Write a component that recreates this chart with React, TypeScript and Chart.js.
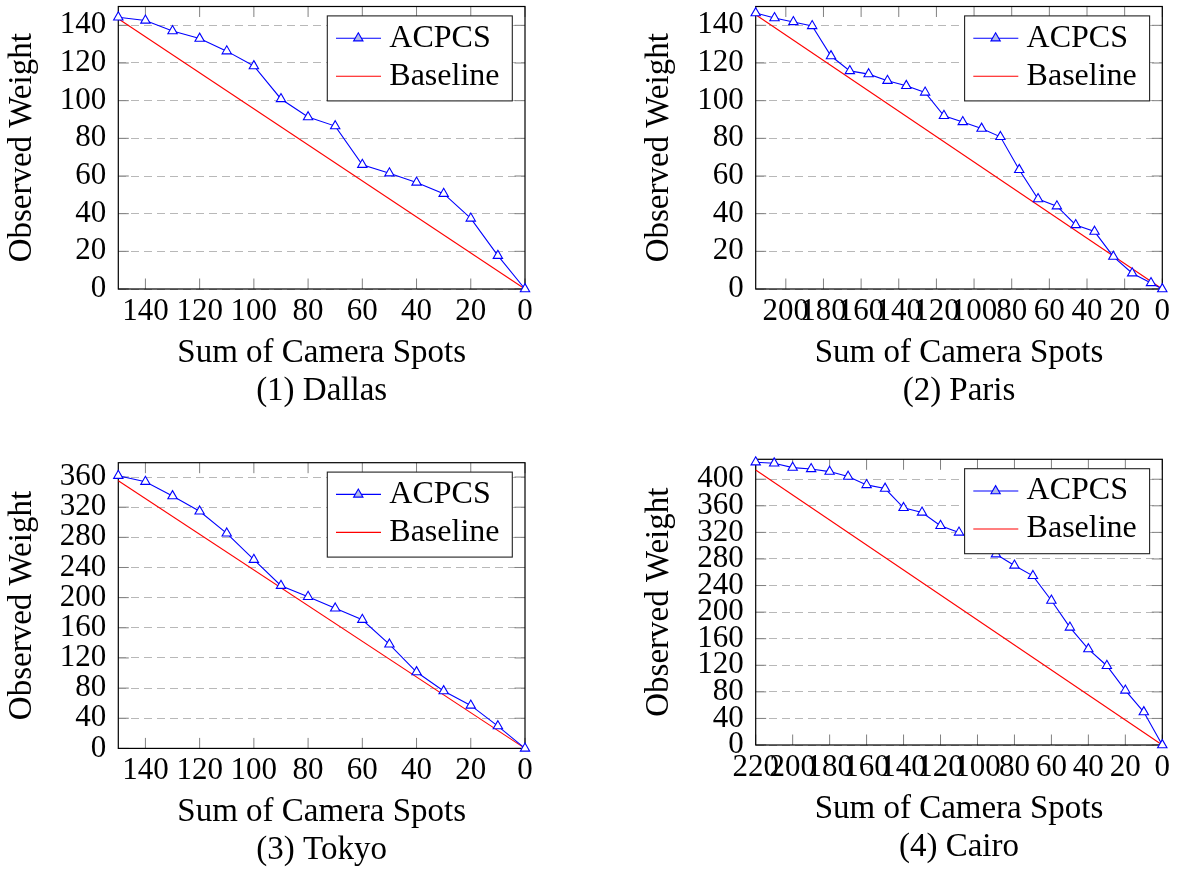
import React, { useEffect, useRef } from 'react';
import { Chart, registerables } from 'chart.js';

Chart.register(...registerables);

// ---------- data ----------
const seriesNames = ['ACPCS', 'Baseline'];
const xAxisTitle = 'Sum of Camera Spots';
const yAxisTitle = 'Observed Weight';

// (1) Dallas
const dallasCaption = '(1) Dallas';
const dallasX = [150, 140, 130, 120, 110, 100, 90, 80, 70, 60, 50, 40, 30, 20, 10, 0];
const dallasACPCS = [144.3, 142.6, 137, 133, 126.3, 118.4, 100.9, 91.3, 86.5, 66, 61.5, 56.6, 50.6, 37.5, 17.7, 0];
const dallasBaseX = [150, 0];
const dallasBaseY = [143.5, 0];

// (2) Paris
const parisCaption = '(2) Paris';
const parisX = [216, 206, 196, 186, 176, 166, 156, 146, 136, 126, 116, 106, 96, 86, 76, 66, 56, 46, 36, 26, 16, 6, 0];
const parisACPCS = [146.5, 143.9, 141.8, 139.7, 123.7, 115.8, 114.1, 110.6, 107.9, 104.4, 92, 88.7, 85.2, 80.8, 63.3, 47.8, 44, 34, 30.5, 17.2, 8.4, 3.2, 0];
const parisBaseX = [216, 0];
const parisBaseY = [145.6, 0];

// (3) Tokyo
const tokyoCaption = '(3) Tokyo';
const tokyoX = [150, 140, 130, 120, 110, 100, 90, 80, 70, 60, 50, 40, 30, 20, 10, 0];
const tokyoACPCS = [361.8, 353.8, 334.8, 314.5, 285.3, 250.3, 215.8, 201.2, 185.8, 170.7, 138, 101.3, 76.1, 57, 29.6, 0];
const tokyoBaseX = [150, 0];
const tokyoBaseY = [355, 0];

// (4) Cairo
const cairoCaption = '(4) Cairo';
const cairoX = [220, 210, 200, 190, 180, 170, 160, 150, 140, 130, 120, 110, 100, 90, 80, 70, 60, 50, 40, 30, 20, 10, 0];
const cairoACPCS = [425.6, 424, 417.5, 415.5, 411.5, 404, 391.5, 386, 357, 350, 330, 320, 304, 287.2, 270.2, 254.6, 217.5, 177, 144.4, 119.3, 82.2, 49.6, 0];
const cairoBaseX = [220, 0];
const cairoBaseY = [414, 0];

// axis ranges / tick steps
const xMaxes = [150, 216, 150, 220];
const yMaxes = [150, 150, 379, 430];
const xSteps = [20, 20, 20, 20];
const ySteps = [20, 20, 40, 40];

// ---------- styling / layout ----------
const FONT = "'Liberation Serif', 'Times New Roman', serif";
const FS_TICK = 31;
const FS_TITLE = 33;
const FS_LEGEND = 32;
const Y_AXIS_W = 118.3;

Chart.defaults.font.family = FONT;
Chart.defaults.color = '#000';

const framePlugin = {
  id: 'pgfFrame',
  beforeDatasetsDraw(chart: any) {
    const { ctx, chartArea: a, scales } = chart;
    ctx.save();
    ctx.strokeStyle = '#808080';
    ctx.lineWidth = 1;
    ctx.beginPath();
    for (const t of scales.x.ticks) {
      const px = scales.x.getPixelForValue(t.value);
      ctx.moveTo(px, a.bottom);
      ctx.lineTo(px, a.bottom - 10.5);
      ctx.moveTo(px, a.top);
      ctx.lineTo(px, a.top + 10.5);
    }
    for (const t of scales.y.ticks) {
      const py = scales.y.getPixelForValue(t.value);
      ctx.moveTo(a.left, py);
      ctx.lineTo(a.left + 10.5, py);
      ctx.moveTo(a.right, py);
      ctx.lineTo(a.right - 10.5, py);
    }
    ctx.stroke();
    ctx.strokeStyle = '#000';
    ctx.lineWidth = 1.2;
    ctx.strokeRect(a.left, a.top, a.right - a.left, a.bottom - a.top);
    ctx.restore();
  },
};

function drawTriangle(ctx: CanvasRenderingContext2D, x: number, y: number, r: number) {
  ctx.beginPath();
  for (let k = 0; k < 3; k++) {
    const ang = (k * 2 * Math.PI) / 3;
    const px = x + Math.sin(ang) * r;
    const py = y - Math.cos(ang) * r;
    if (k === 0) ctx.moveTo(px, py);
    else ctx.lineTo(px, py);
  }
  ctx.closePath();
}

const legendPlugin = {
  id: 'pgfLegend',
  afterDatasetsDraw(chart: any) {
    const { ctx, chartArea: a } = chart;
    const bw = 185;
    const bh = 85;
    const bx = a.right - 12.7 - bw;
    const by = a.top + 9.4;
    ctx.save();
    ctx.fillStyle = '#fff';
    ctx.fillRect(bx, by, bw, bh);
    ctx.strokeStyle = '#222';
    ctx.lineWidth = 1.1;
    ctx.strokeRect(bx, by, bw, bh);
    chart.data.datasets.forEach((ds: any, i: number) => {
      const cy = by + 22.3 + i * 38;
      ctx.strokeStyle = ds.borderColor;
      ctx.lineWidth = ds.borderWidth;
      ctx.beginPath();
      ctx.moveTo(bx + 8.7, cy);
      ctx.lineTo(bx + 53.7, cy);
      ctx.stroke();
      if (ds.pointRadius > 0) {
        drawTriangle(ctx, bx + 31, cy, ds.pointRadius);
        ctx.fillStyle = 'rgb(178,188,232)';
        ctx.fill();
        ctx.strokeStyle = ds.pointBorderColor;
        ctx.lineWidth = ds.pointBorderWidth;
        ctx.stroke();
      }
      ctx.fillStyle = '#000';
      ctx.font = `${FS_LEGEND}px ${FONT}`;
      ctx.textBaseline = 'middle';
      ctx.textAlign = 'left';
      ctx.fillText(ds.label, bx + 62, cy);
    });
    ctx.restore();
  },
};

type Rect = { l: number; t: number; r: number; b: number };
type Box = { left: number; top: number; w: number; h: number };

interface PanelProps {
  idx: number;
  caption: string;
  xs: number[];
  ys: number[];
  bx: number[];
  by: number[];
  canvas: Box;
  plot: Rect;
}

function Panel({ idx, caption, xs, ys, bx, by, canvas, plot }: PanelProps) {
  const ref = useRef<HTMLCanvasElement>(null);
  useEffect(() => {
    const padLeft = plot.l - canvas.left - Y_AXIS_W;
    const padTop = plot.t - canvas.top;
    const padRight = canvas.left + canvas.w - plot.r;
    const plotBottomRel = plot.b - canvas.top;
    const xBoxH = canvas.h - plotBottomRel;
    const titlePadBottom = canvas.h - (plotBottomRel + 102.4 + 19);

    const chart = new Chart(ref.current as HTMLCanvasElement, {
      type: 'line',
      data: {
        datasets: [
          {
            label: seriesNames[0],
            data: xs.map((x, i) => ({ x, y: ys[i] })),
            borderColor: '#0000ff',
            borderWidth: 1.1,
            pointStyle: 'triangle',
            pointRadius: 5.4,
            pointBorderWidth: 1.1,
            pointBorderColor: '#0000ff',
            pointBackgroundColor: '#ffffff',
            clip: false,
          } as any,
          {
            label: seriesNames[1],
            data: bx.map((x, i) => ({ x, y: by[i] })),
            borderColor: '#ff0000',
            borderWidth: 1.1,
            pointRadius: 0,
            clip: false,
          } as any,
        ],
      },
      options: {
        responsive: false,
        animation: false,
        events: [],
        layout: { padding: { left: padLeft, top: padTop, right: padRight, bottom: 0 } },
        plugins: { legend: { display: false }, tooltip: { enabled: false } },
        scales: {
          x: {
            type: 'linear',
            reverse: true,
            min: 0,
            max: xMaxes[idx],
            afterFit: (s: any) => {
              s.height = xBoxH;
              s.paddingLeft = 0;
              s.paddingRight = 0;
            },
            ticks: {
              stepSize: xSteps[idx],
              includeBounds: false,
              autoSkip: false,
              maxRotation: 0,
              minRotation: 0,
              padding: 4,
              color: '#000',
              font: { size: FS_TICK, lineHeight: 1.2 },
            },
            grid: { display: false, drawTicks: false },
            border: { display: false },
            title: {
              display: true,
              text: [xAxisTitle, caption],
              color: '#000',
              font: { size: FS_TITLE, lineHeight: '38px' },
              padding: { top: 0, bottom: titlePadBottom },
            },
          },
          y: {
            type: 'linear',
            min: 0,
            max: yMaxes[idx],
            afterFit: (s: any) => {
              s.width = Y_AXIS_W;
              s.paddingTop = 0;
              s.paddingBottom = 0;
            },
            ticks: {
              stepSize: ySteps[idx],
              includeBounds: false,
              autoSkip: false,
              padding: 12,
              color: '#000',
              font: { size: FS_TICK, lineHeight: 1.2 },
            },
            grid: { color: '#b8b8b8', lineWidth: 1, drawTicks: false },
            border: { display: false, dash: [8, 5] },
            title: {
              display: true,
              text: yAxisTitle,
              color: '#000',
              font: { size: FS_TITLE, lineHeight: 1.2 },
              padding: { top: 2.4, bottom: 0 },
            },
          },
        },
      } as any,
      plugins: [framePlugin, legendPlugin],
    });
    return () => chart.destroy();
  }, []);

  return (
    <div style={{ position: 'absolute', left: canvas.left, top: canvas.top, width: canvas.w, height: canvas.h }}>
      <canvas ref={ref} width={canvas.w} height={canvas.h} style={{ width: canvas.w, height: canvas.h, display: 'block' }} />
    </div>
  );
}

export default function App() {
  return (
    <div style={{ position: 'absolute', left: 0, top: 0, width: 1183, height: 871, background: '#fff' }}>
      <Panel
        idx={0}
        caption={dallasCaption}
        xs={dallasX}
        ys={dallasACPCS}
        bx={dallasBaseX}
        by={dallasBaseY}
        canvas={{ left: 0, top: 0, w: 600, h: 430 }}
        plot={{ l: 118.3, t: 3.3, r: 525, b: 289 }}
      />
      <Panel
        idx={1}
        caption={parisCaption}
        xs={parisX}
        ys={parisACPCS}
        bx={parisBaseX}
        by={parisBaseY}
        canvas={{ left: 600, top: 0, w: 583, h: 430 }}
        plot={{ l: 755.7, t: 3.3, r: 1162.3, b: 289 }}
      />
      <Panel
        idx={2}
        caption={tokyoCaption}
        xs={tokyoX}
        ys={tokyoACPCS}
        bx={tokyoBaseX}
        by={tokyoBaseY}
        canvas={{ left: 0, top: 430, w: 600, h: 441 }}
        plot={{ l: 118.3, t: 462.7, r: 525, b: 748.4 }}
      />
      <Panel
        idx={3}
        caption={cairoCaption}
        xs={cairoX}
        ys={cairoACPCS}
        bx={cairoBaseX}
        by={cairoBaseY}
        canvas={{ left: 600, top: 430, w: 583, h: 441 }}
        plot={{ l: 755.7, t: 459.3, r: 1162.3, b: 745 }}
      />
    </div>
  );
}
